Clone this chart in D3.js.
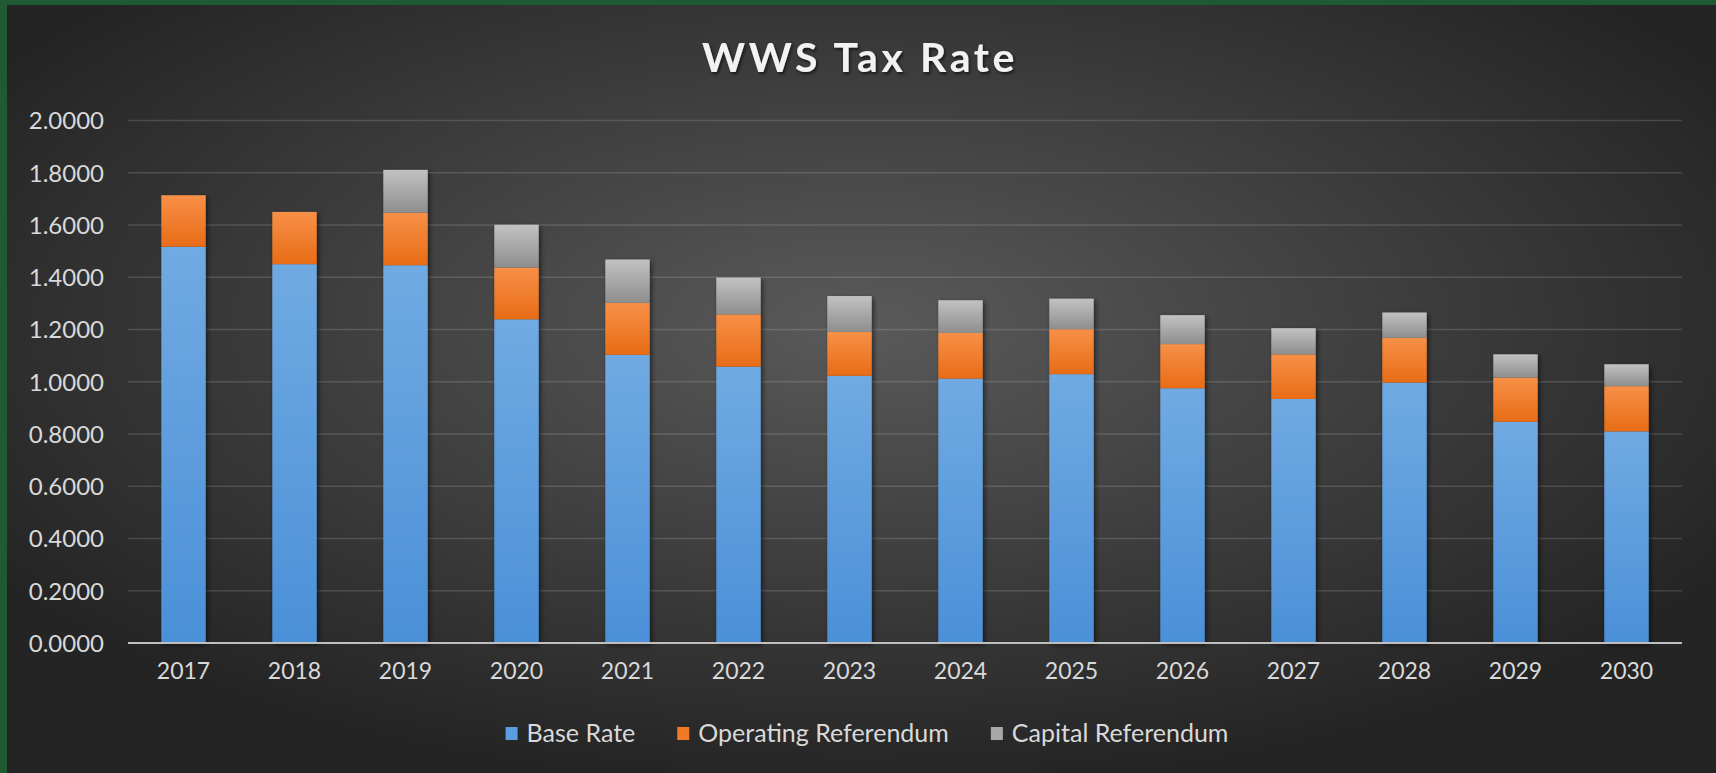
<!DOCTYPE html>
<html>
<head>
<meta charset="utf-8">
<script src="https://cdn.jsdelivr.net/npm/d3@7"></script>
<style>
  html, body { margin: 0; padding: 0; background: #262626; }
  svg { display: block; }
  text { font-family: Lato, "Open Sans", sans-serif; }
</style>
</head>
<body>
<svg id="chart" width="1716" height="773"></svg>
<script>
const years = ["2017","2018","2019","2020","2021","2022","2023","2024","2025","2026","2027","2028","2029","2030"];
const baseRate = [1.517,1.450,1.446,1.239,1.103,1.058,1.023,1.012,1.029,0.975,0.934,0.997,0.847,0.810];
const operatingRef = [0.197,0.200,0.201,0.198,0.199,0.200,0.168,0.175,0.172,0.169,0.171,0.171,0.169,0.173];
const capitalRef = [0.000,0.000,0.164,0.164,0.166,0.141,0.137,0.125,0.117,0.111,0.100,0.097,0.089,0.084];
const seriesNames = ["Base Rate","Operating Referendum","Capital Referendum"];
const yTicks = [0,0.2,0.4,0.6,0.8,1.0,1.2,1.4,1.6,1.8,2.0];

const W = 1716, H = 773;
const margin = {left: 128, right: 34, top: 120.5, bottom: 130};
const svg = d3.select("#chart");
const defs = svg.append("defs");

// background radial gradient
const bg = defs.append("radialGradient").attr("id","bg")
  .attr("cx","50%").attr("cy","42%").attr("r","60%").attr("fx","50%").attr("fy","42%");
bg.append("stop").attr("offset","0%").attr("stop-color","#5a5a5a");
bg.append("stop").attr("offset","100%").attr("stop-color","#242424");

const grads = [
  {id:"gBlue", top:"#70aae2", bot:"#4b90d8"},
  {id:"gOrange", top:"#f79047", bot:"#e86c16"},
  {id:"gGray", top:"#c2c2c2", bot:"#8e8e8e"}
];
grads.forEach(g => {
  const lg = defs.append("linearGradient").attr("id", g.id).attr("x1",0).attr("y1",0).attr("x2",0).attr("y2",1);
  lg.append("stop").attr("offset","0%").attr("stop-color", g.top);
  lg.append("stop").attr("offset","100%").attr("stop-color", g.bot);
});
const sh = defs.append("filter").attr("id","shadow").attr("x","-30%").attr("y","-10%").attr("width","160%").attr("height","120%");
sh.append("feDropShadow").attr("dx",2).attr("dy",2).attr("stdDeviation",2.5)
  .attr("flood-color","#000").attr("flood-opacity",0.55);
const tsh = defs.append("filter").attr("id","tshadow").attr("x","-10%").attr("y","-30%").attr("width","120%").attr("height","160%");
tsh.append("feDropShadow").attr("dx",1.5).attr("dy",2).attr("stdDeviation",1.5)
  .attr("flood-color","#000").attr("flood-opacity",0.6);

svg.append("rect").attr("width",W).attr("height",H).attr("fill","url(#bg)");
// green frame (top and left)
svg.append("rect").attr("x",0).attr("y",0).attr("width",W).attr("height",5).attr("fill","#1f5a32");
svg.append("rect").attr("x",0).attr("y",0).attr("width",7).attr("height",H).attr("fill","#1f5a32");

const x = d3.scaleBand().domain(years).range([margin.left, W - margin.right]).paddingInner(0.6).paddingOuter(0.3);
const y = d3.scaleLinear().domain([0, 2]).range([H - margin.bottom, margin.top]);

// gridlines
svg.append("g").selectAll("line").data(yTicks.filter(d => d > 0)).join("line")
  .attr("x1", margin.left).attr("x2", W - margin.right)
  .attr("y1", d => y(d)).attr("y2", d => y(d))
  .attr("stroke", "#ffffff").attr("stroke-opacity", 0.14).attr("stroke-width", 1.5);

// y axis labels
const yAxis = d3.axisLeft(y).tickValues(yTicks).tickFormat(d3.format(".4f")).tickSize(0).tickPadding(0);
const yg = svg.append("g").attr("transform", `translate(${104},0)`).call(yAxis);
yg.select(".domain").remove();
yg.selectAll("text").attr("fill","#d9d9d9").style("font-size","24px").attr("dy","0.35em");

// stacked data
const rows = years.map((yr, i) => ({year: yr, "Base Rate": baseRate[i], "Operating Referendum": operatingRef[i], "Capital Referendum": capitalRef[i]}));
const stack = d3.stack().keys(seriesNames)(rows);
const fills = ["url(#gBlue)","url(#gOrange)","url(#gGray)"];

const barsG = svg.append("g");
years.forEach((yr, i) => {
  const g = barsG.append("g").attr("filter","url(#shadow)");
  stack.forEach((s, k) => {
    const d = s[i];
    if (d[1] - d[0] <= 0) return;
    g.append("rect").attr("x", x(yr)).attr("width", x.bandwidth())
      .attr("y", y(d[1])).attr("height", y(d[0]) - y(d[1]))
      .attr("fill", fills[k]);
  });
});

// x axis
const xAxis = d3.axisBottom(x).tickSize(0).tickPadding(20);
const xg = svg.append("g").attr("transform", `translate(0,${y(0)})`).call(xAxis);
xg.select(".domain").attr("d", `M${margin.left},0H${W - margin.right}`).attr("stroke","#bfbfbf").attr("stroke-width",2);
xg.selectAll("text").attr("fill","#d9d9d9").style("font-size","23px");

// title
svg.append("text").attr("x", 860).attr("y", 72).attr("text-anchor","middle")
  .attr("fill","#f2f2f2").style("font-size","41px").style("font-weight","bold").style("letter-spacing","3.6px")
  .attr("filter","url(#tshadow)").text("WWS Tax Rate");

// legend
const legColors = ["#5b9ee0","#f07a26","#a8a8a8"];
const leg = svg.append("g");
let lx = 0;
seriesNames.forEach((n, i) => {
  const it = leg.append("g").attr("transform", `translate(${lx},0)`);
  it.append("rect").attr("x",0).attr("y",-6).attr("width",12).attr("height",13).attr("fill",legColors[i]);
  const t = it.append("text").attr("x",21).attr("y",0).attr("dy","0.35em").attr("fill","#d9d9d9")
    .style("font-size","25px").text(n);
  lx += 21 + t.node().getComputedTextLength() + 42;
});
lx -= 42;
leg.attr("transform", `translate(${867 - lx/2},${733})`);
</script>
</body>
</html>
